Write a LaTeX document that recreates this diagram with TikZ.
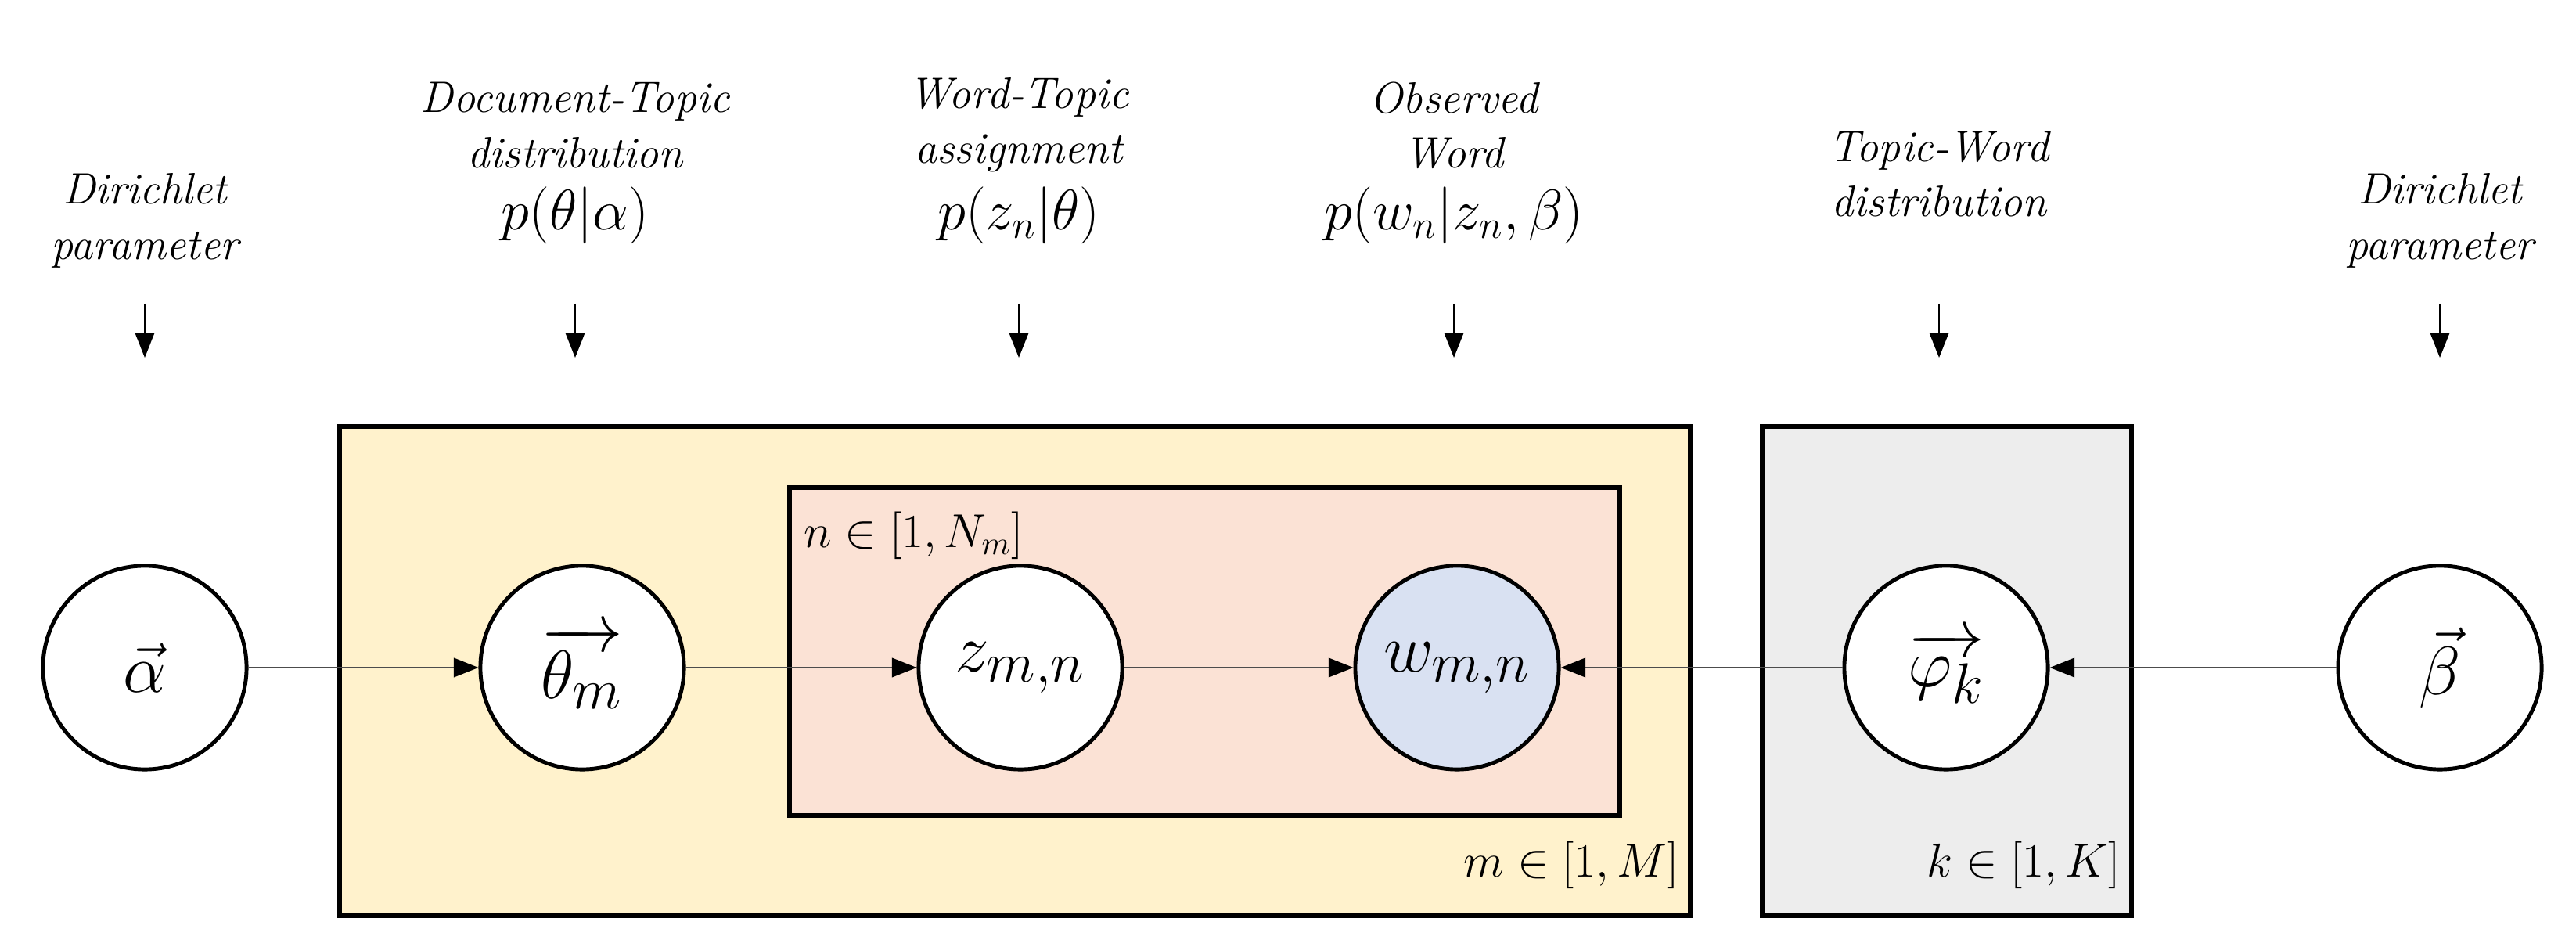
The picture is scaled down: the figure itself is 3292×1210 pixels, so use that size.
\documentclass[tikz,border=0pt]{standalone}
\usepackage{amsmath}
\usetikzlibrary{arrows.meta}
\definecolor{yel}{HTML}{FFF2CC}
\definecolor{pnk}{HTML}{FBE2D5}
\definecolor{gry}{HTML}{EDEDED}
\definecolor{blu}{HTML}{D9E1F2}
\begin{document}
\begin{tikzpicture}[x=0.01cm,y=-0.01cm,
  var/.style={circle,draw=black,line width=1.4pt,minimum size=2.6cm,inner sep=0pt,fill=white,font=\fontsize{28}{30}\selectfont},
  plate/.style={draw=black,line width=1.5pt},
  edge/.style={draw=black!70,line width=0.6pt,-{Triangle[length=9pt,width=7pt,color=black]}},
  down/.style={draw=black,line width=0.6pt,-{Triangle[length=9pt,width=7pt]}},
  captxt/.style={font=\fontsize{16}{20}\selectfont\itshape,align=center},
  prob/.style={font=\fontsize{20}{22}\selectfont},
  pl/.style={font=\fontsize{18}{20}\selectfont}]
\useasboundingbox (0,0) rectangle (3292,1210);
\fill[yel] (434,545) rectangle (2160,1170);
\draw[plate] (434,545) rectangle (2160,1170);
\fill[gry] (2252,545) rectangle (2724,1170);
\draw[plate] (2252,545) rectangle (2724,1170);
\fill[pnk] (1009,623) rectangle (2070,1042);
\draw[plate] (1009,623) rectangle (2070,1042);
\node[pl,anchor=west] (nl) at (1015,684) {$n\in[1,N_m]$};
\node[pl,anchor=east] (ml) at (2158,1105) {$m\in[1,M]$};
\node[pl,anchor=east] (kl) at (2722,1105) {$k\in[1,K]$};
\node[var] (a) at (185,853) {$\vec{\alpha}$};
\node[var] (t) at (744,853) {$\overrightarrow{\theta_m}$};
\node[var] (z) at (1304,853) {$z_{m,n}$};
\node[var,fill=blu] (w) at (1862,853) {$w_{m,n}$};
\node[var] (p) at (2487,853) {$\overrightarrow{\varphi_k}$};
\node[var] (b) at (3118,853) {$\vec{\beta}$};
\draw[edge] (a) -- (t);
\draw[edge] (t) -- (z);
\draw[edge] (z) -- (w);
\draw[edge] (p) -- (w);
\draw[edge] (b) -- (p);
% captions
\node[captxt] (c1) at (185,282) {Dirichlet\\parameter};
\node[captxt] (c2) at (735,160) {Document-Topic\\distribution};
\node[prob] (p2) at (735,275) {$p(\theta|\alpha)$};
\node[captxt] (c3) at (1302,160) {Word-Topic\\assignment};
\node[prob] (p3) at (1302,275) {$p(z_n|\theta)$};
\node[captxt] (c4) at (1858,160) {Observed\\Word};
\node[prob] (p4) at (1858,275) {$p(w_n|z_n,\beta)$};
\node[captxt] (c5) at (2478,222) {Topic-Word\\distribution};
\node[captxt] (c6) at (3118,282) {Dirichlet\\parameter};
\foreach \n/\x in {1/185,2/735,3/1302,4/1858,5/2478,6/3118}{
  \coordinate (s\n) at (\x,388); \coordinate (e\n) at (\x,457);
  \draw[down] (s\n) -- (e\n);}
\end{tikzpicture}
\end{document}
